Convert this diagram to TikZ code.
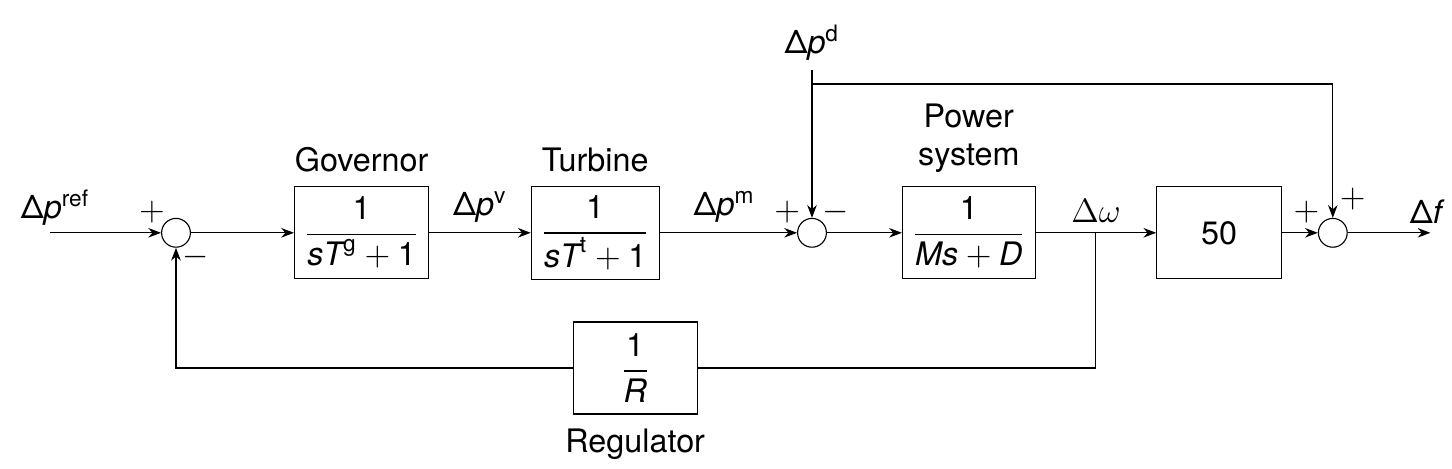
\documentclass[tikz,border=0pt]{standalone}
\usepackage{amsmath}
\usepackage{fontspec}
\setmainfont{TeX Gyre Heros}
\usetikzlibrary{arrows.meta, positioning, calc}

\begin{document}
\begin{tikzpicture}[
    font=\fontsize{11.5pt}{13.5pt}\selectfont,
    >={Stealth[length=1.6mm, width=1.2mm]},
    blk/.style={rectangle, draw, minimum width=#1, minimum height=11.5mm, align=center},
    sumnode/.style={circle, draw, minimum size=3.6mm, inner sep=0pt},
    sgn/.style={inner sep=0pt},
]
\useasboundingbox (-2.2,2.91) rectangle (15.95,-2.94);

% summing junctions
\node[sumnode] (sum1) at (0,0) {};
\node[sumnode] (sum2) at (7.95,0) {};
\node[sumnode] (sum3) at (14.46,0) {};

% blocks
\node[blk=15.4mm] (gov) at (2.32,0) {$\dfrac{\textrm{1}}{\textit{s}\textit{T}^{\mathrm{g}}+\textrm{1}}$};
\node[blk=15.5mm] (turb) at (5.24,0) {$\dfrac{\textrm{1}}{\textit{s}\textit{T}^{\mathrm{t}}+\textrm{1}}$};
\node[blk=16mm] (psys) at (9.91,0) {$\dfrac{\textrm{1}}{\textit{Ms}+\textit{D}}$};
\node[blk=15.6mm] (gain) at (13.04,0) {50};
\node[blk=15.5mm] (reg) at (5.74,-1.69) {$\dfrac{\textrm{1}}{\textit{R}}$};

\node[above=0.5mm of gov] {Governor};
\node[above=0.5mm of turb] {Turbine};
\node[above=0.5mm of psys, align=center] {Power\\system};
\node[below=0.5mm of reg] {Regulator};

% inputs and outputs
\coordinate (in) at (-1.58,0);
\coordinate (out) at (15.68,0);
\node (dist) at (7.95,2.38) {Δ\textit{p}\textsuperscript{d}};
\coordinate (dsplit) at (7.95,1.86);
\coordinate (wsplit) at (11.49,0);

\node at (-1.51,0.31) {Δ\textit{p}\textsuperscript{ref}};
\node at (15.64,0.26) {Δ\textit{f}};

% forward path
\draw[->] (in) -- (sum1);
\draw[->] (sum1) -- (gov);
\draw[->] (gov) -- node[above] {Δ\textit{p}\textsuperscript{v}} (turb);
\draw[->] (turb) -- node[above, pos=0.47] {Δ\textit{p}\textsuperscript{m}} (sum2);
\draw[->] (sum2) -- (psys);
\draw[->] (psys) -- node[above] {$\Delta\omega$} (gain);
\draw[->] (gain) -- (sum3);
\draw[->] (sum3) -- (out);

% disturbance
\draw (dist.south) -- (dsplit);
\draw[->] (dsplit) -- (sum2);
\draw[->] (dsplit) -| (sum3);

% feedback
\draw (wsplit) |- (reg);
\draw[->] (reg) -| (sum1);

% signs
\node[sgn] at ($(sum1)+(-0.3,0.26)$) {$+$};
\node[sgn] at ($(sum1)+(0.24,-0.3)$) {$-$};
\node[sgn] at ($(sum2)+(-0.31,0.26)$) {$+$};
\node[sgn] at ($(sum2)+(0.3,0.26)$) {$-$};
\node[sgn] at ($(sum3)+(-0.33,0.26)$) {$+$};
\node[sgn] at ($(sum3)+(0.25,0.42)$) {$+$};
\end{tikzpicture}
\end{document}
